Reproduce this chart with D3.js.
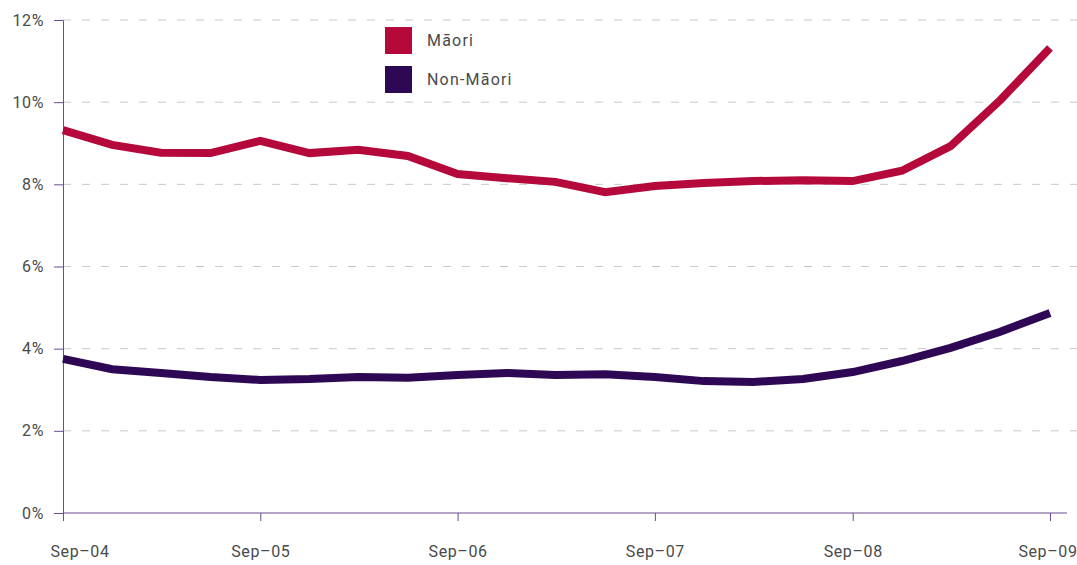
<!DOCTYPE html>
<html>
<head>
<meta charset="utf-8">
<script src="https://cdn.jsdelivr.net/npm/d3@7"></script>
<style>
  body { margin: 0; background: #fff; }
  text { font-family: Roboto, "DejaVu Sans", sans-serif; }
</style>
</head>
<body>
<div id="chart"></div>
<script>
const width = 1077;
const height = 565;
const margin = { top: 20, right: 27, bottom: 52, left: 63 };

const quarters = [
  "2004-09", "2004-12", "2005-03", "2005-06", "2005-09", "2005-12", "2006-03",
  "2006-06", "2006-09", "2006-12", "2007-03", "2007-06", "2007-09", "2007-12",
  "2008-03", "2008-06", "2008-09", "2008-12", "2009-03", "2009-06", "2009-09"
];
const maori = [
  9.32, 8.96, 8.77, 8.76, 9.06, 8.76, 8.84, 8.69, 8.25, 8.15, 8.06,
  7.81, 7.96, 8.03, 8.08, 8.1, 8.08, 8.33, 8.93, 10.05, 11.32
];
const nonMaori = [
  3.75, 3.5, 3.41, 3.31, 3.24, 3.26, 3.31, 3.29, 3.36, 3.41, 3.36,
  3.38, 3.31, 3.21, 3.19, 3.26, 3.43, 3.7, 4.02, 4.41, 4.87
];
const seriesNames = ["Māori", "Non-Māori"];
const colors = ["#b5093b", "#2e0854"];
const yTicks = [0, 2, 4, 6, 8, 10, 12];
const xTickLabels = ["Sep–04", "Sep–05", "Sep–06", "Sep–07", "Sep–08", "Sep–09"];

const parse = d3.timeParse("%Y-%m");
const dates = quarters.map(parse);

const x = d3
  .scaleTime()
  .domain(d3.extent(dates))
  .range([margin.left, width - margin.right]);

const y = d3
  .scaleLinear()
  .domain([0, 12])
  .range([height - margin.bottom, margin.top]);

const svg = d3
  .select("#chart")
  .append("svg")
  .attr("width", width)
  .attr("height", height);

// dashed gridlines
svg
  .append("g")
  .selectAll("line")
  .data(yTicks.filter(d => d > 0))
  .enter()
  .append("line")
  .attr("x1", margin.left)
  .attr("x2", width)
  .attr("y1", d => y(d))
  .attr("y2", d => y(d))
  .attr("stroke", "#c8c8c8")
  .attr("stroke-width", 1)
  .attr("stroke-dasharray", "8,11");

const axisColor = "#6a4c93";
const labelStyle = sel =>
  sel
    .attr("fill", "#4a4a4a")
    .style("font-size", "16px")
    .style("letter-spacing", "0.6px");

// y axis
const yAxis = svg
  .append("g")
  .attr("transform", `translate(${margin.left},0)`)
  .call(
    d3.axisLeft(y)
      .tickValues(yTicks)
      .tickSize(9)
      .tickPadding(10)
      .tickFormat(d => d + "%")
  );
yAxis.select(".domain").attr("stroke", axisColor);
yAxis.selectAll(".tick line").attr("stroke", axisColor);
yAxis.selectAll(".tick text").call(labelStyle);

// x axis
const sepTicks = xTickLabels.map((d, i) => dates[i * 4]);
const xAxis = svg
  .append("g")
  .attr("transform", `translate(0,${height - margin.bottom})`)
  .call(
    d3.axisBottom(x)
      .tickValues(sepTicks)
      .tickSize(8)
      .tickSizeOuter(0)
      .tickPadding(25)
      .tickFormat((d, i) => xTickLabels[i])
  );
xAxis
  .select(".domain")
  .attr("stroke", axisColor)
  .attr("d", `M${margin.left},0H${width - 10}`);
xAxis.selectAll(".tick line").attr("stroke", axisColor);
xAxis.selectAll(".tick text").call(labelStyle);
xAxis
  .select(".tick text")
  .attr("text-anchor", "start")
  .attr("x", -13);
xAxis
  .selectAll(".tick:last-of-type text")
  .attr("text-anchor", "end")
  .attr("x", 27);

// lines
const line = d3
  .line()
  .x((d, i) => x(dates[i]))
  .y(d => y(d));

[maori, nonMaori].forEach((series, i) => {
  svg
    .append("path")
    .datum(series)
    .attr("fill", "none")
    .attr("stroke", colors[i])
    .attr("stroke-width", 8)
    .attr("stroke-linejoin", "miter")
    .attr("d", line);
});

// legend
const legend = svg
  .append("g")
  .attr("transform", "translate(385,27)");

seriesNames.forEach((name, i) => {
  const g = legend.append("g").attr("transform", `translate(0,${i * 39})`);
  g.append("rect")
    .attr("width", 27)
    .attr("height", 27)
    .attr("fill", colors[i]);
  g.append("text")
    .attr("x", 42)
    .attr("y", 19)
    .call(labelStyle)
    .style("letter-spacing", "1.2px")
    .text(name);
});
</script>
</body>
</html>
